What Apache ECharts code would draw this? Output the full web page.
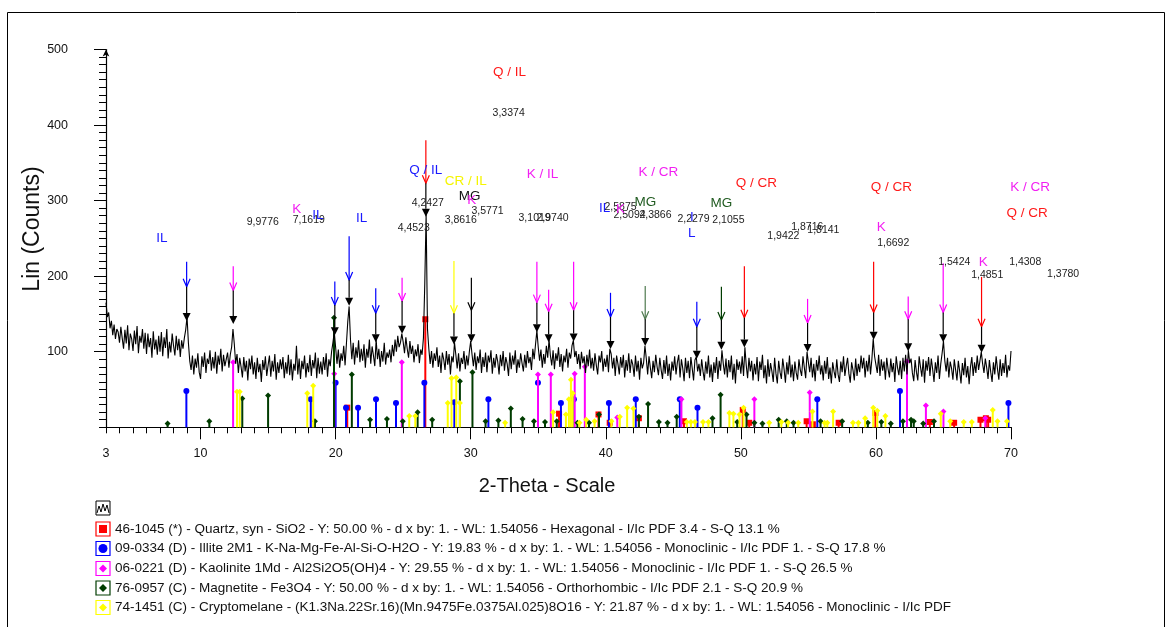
<!DOCTYPE html>
<html>
<head>
<meta charset="utf-8">
<script src="https://cdn.jsdelivr.net/npm/echarts@6/dist/echarts.min.js"></script>
<style>
  html, body { margin: 0; padding: 0; background: #fff; }
  #chart { width: 1171px; height: 627px; }
</style>
</head>
<body>
<div id="chart"></div>
<script>
// ---- Scan: 2-Theta from 3 to 70 deg, one reading every 0.1 deg ----
const scanStart = 3;
const scanStep = 0.1;
const scanCounts = [
  165,146,152,131,141,122,136,117,130,126,
  112,133,118,104,129,111,135,102,124,117,
  101,128,110,134,98,121,112,130,104,125,
  97,124,106,118,92,127,103,116,96,121,
  100,126,94,119,105,130,91,113,99,124,
  108,95,121,102,117,93,115,104,118,129,
  146,112,88,76,95,70,91,79,98,73,
  64,94,80,99,72,91,84,102,75,93,
  78,100,71,95,83,104,74,96,81,90,
  99,79,96,106,130,110,84,97,72,92,
  80,66,93,74,88,62,91,77,95,70,
  86,64,92,73,84,60,89,76,94,68,
  82,95,67,88,74,97,63,86,72,90,
  77,93,65,86,71,96,69,90,62,84,
  75,108,70,91,64,88,77,95,66,85,
  73,96,68,89,78,99,65,92,71,87,
  70,93,76,98,67,90,81,100,112,126,
  106,84,103,79,98,88,108,82,111,140,
  160,116,90,112,83,106,92,115,86,104,
  88,110,79,104,92,116,84,107,95,81,
  116,90,104,80,101,87,112,83,99,92,
  103,86,109,94,116,100,121,106,112,124,
  113,98,119,104,92,114,97,108,86,103,
  94,110,85,103,96,118,190,282,130,104,
  84,101,79,98,88,106,80,95,72,99,
  90,76,101,83,97,70,94,86,112,96,
  78,98,74,92,84,101,77,95,82,100,
  114,96,81,99,76,94,85,103,72,93,
  80,99,73,95,86,102,71,92,79,97,
  87,70,96,81,101,75,93,84,68,99,
  77,95,83,102,72,90,79,98,85,74,
  96,79,101,85,93,76,104,90,110,128,
  106,88,103,79,97,84,108,92,116,95,
  82,102,77,98,88,106,80,97,74,95,
  86,104,79,99,91,108,115,93,101,84,
  97,77,100,85,94,72,96,81,103,78,
  92,75,98,82,70,95,86,101,74,91,
  80,96,73,104,97,78,92,68,95,84,
  70,93,79,96,66,89,75,98,72,90,
  83,67,95,74,88,63,92,78,85,108,
  91,70,94,79,65,88,73,96,80,69,
  92,76,64,89,71,95,68,84,62,87,
  75,94,70,86,96,66,90,78,61,92,
  72,88,65,93,78,62,89,93,74,84,
  68,90,74,62,87,71,95,66,83,60,
  86,72,93,64,88,75,102,84,70,91,
  66,89,73,95,63,84,58,90,76,87,
  71,94,68,106,82,65,92,74,88,62,
  84,70,93,61,87,76,96,65,82,58,
  90,67,85,74,60,92,71,58,88,73,
  64,91,77,59,86,70,95,66,83,61,
  87,72,63,90,76,68,94,79,65,100,
  86,73,92,66,84,61,89,75,95,70,
  82,62,88,71,93,64,79,58,86,74,
  65,90,70,60,87,73,94,68,81,92,
  71,59,86,76,62,91,68,84,73,95,
  78,92,66,88,74,96,70,90,117,94,
  83,72,96,68,90,75,87,63,92,77,
  66,91,73,85,60,94,79,69,88,64,
  92,74,96,70,102,85,91,72,61,89,
  73,62,94,80,67,90,59,88,75,93,
  68,91,77,60,86,72,95,64,84,98,
  114,88,74,92,66,87,78,63,90,76,
  62,88,74,58,85,69,92,66,81,57,
  80,93,68,86,72,95,76,88,100,84,
  72,91,79,64,89,73,60,86,70,94,
  77,63,90,68,85,72,96,66,82,75,
  101
];

// ---- Reference patterns: [2-Theta, stick height in counts] ----
const quartzSticks = [
  [20.86,26],[26.64,143],[36.54,18],[39.46,17],[40.29,6],[42.45,12],[45.79,8],[50.14,23],
  [50.62,6],[54.87,8],[55.33,4],[57.24,6],[59.96,19],[63.99,7],[65.79,6],[67.74,10],[68.14,12],[68.31,10]
];
const illiteSticks = [
  [8.95,48],[18.16,37],[20.0,59],[20.77,26],[21.66,26],[22.99,37],[24.47,32],[26.57,59],
  [28.79,33],[31.31,37],[34.98,59],[36.68,32],[37.64,37],[40.23,32],[42.22,37],[45.48,37],
  [46.79,26],[55.66,37],[61.78,48],[69.81,32]
];
const kaoliniteSticks = [
  [12.41,86],[19.9,71],[24.9,86],[34.98,70],[35.93,70],[37.7,71],[38.45,80],[40.85,13],
  [45.6,37],[51.0,37],[55.1,46],[62.3,87],[63.7,29],[65.0,21],[68.1,12]
];
const magnetiteSticks = [
  [7.56,5],[10.65,8],[13.09,38],[15.0,42],[18.47,8],[19.88,145],[21.2,70],[22.55,10],
  [23.8,11],[24.97,8],[26.07,20],[27.15,10],[29.2,61],[30.13,73],[31.1,8],[32.05,9],
  [32.97,25],[33.84,11],[34.68,8],[35.5,7],[36.37,8],[37.9,6],[38.76,6],[39.5,17],
  [42.45,14],[43.13,31],[43.93,7],[44.57,6],[45.25,14],[47.9,12],[48.5,43],[49.73,7],
  [50.42,17],[51.0,6],[51.6,5],[52.8,10],[53.4,8],[53.9,6],[55.9,8],[57.5,8],
  [59.4,6],[60.4,7],[61.1,5],[62.0,8],[62.6,10],[62.8,8],[63.5,5],[64.3,8]
];
const cryptomelaneSticks = [
  [12.7,47],[12.9,47],[17.9,45],[18.34,55],[25.45,15],[25.9,15],[28.3,32],[28.58,65],
  [28.93,66],[29.2,32],[32.55,6],[36.1,20],[37.05,17],[37.27,37],[37.42,63],[37.55,45],
  [38.05,6],[38.55,10],[39.17,8],[40.42,8],[41.04,14],[41.58,26],[42.05,25],[46.0,7],
  [46.3,7],[46.6,7],[47.2,7],[47.6,7],[49.15,19],[49.45,18],[49.9,17],[50.2,26],
  [52.1,6],[53.0,7],[53.5,6],[54.25,6],[55.3,21],[56.2,6],[56.4,6],[56.83,21],
  [58.3,6],[58.7,6],[59.2,12],[59.8,26],[60.1,22],[60.7,15],[64.8,18],[65.5,8],
  [66.5,7],[67.1,7],[68.65,23],[69.0,8],[69.7,8]
];

// ---- Identified peaks: [2-Theta, arrow top, arrow head, peak mark tip] (counts) ----
const peakMarks = [
  [8.97,219,186,146],[12.42,213,181,142],[19.94,193,162,127],[21.0,253,195,166],
  [22.97,184,151,118],[24.92,198,167,129],[26.68,380,323,284],[28.76,220,151,115],
  [30.05,198,155,118],[34.9,219,165,131],[35.77,182,153,118],[37.62,219,155,119],
  [40.35,178,146,109],[42.92,187,143,113],[46.74,166,133,96],[48.56,186,142,108],
  [50.26,213,145,111],[54.94,170,138,105],[59.83,219,152,121],[62.39,173,143,106],
  [64.98,217,152,118],[67.82,199,133,104]
];
const peakPhase = ['IL','K','IL','IL','IL','K','Q','CR','MGB','K','K','K','IL','MGL','IL','MG','Q','K','Q','K','K','Q'];

// ---- d-spacing annotations: [text, 2-Theta, counts] ----
const dSpacingLabels = [
  ['9,9776',14.61,272],['7,1619',18.01,274],['4,2427',26.82,297],['4,4523',25.78,264],
  ['3,8616',29.26,274],['3,5771',31.25,286],['3,3374',32.81,416],['3,1019',34.73,277],
  ['2,9740',36.06,277],['2,5875',41.09,292],['2,5094',41.76,281],['2,3866',43.68,281],
  ['2,2279',46.49,276],['2,1055',49.08,274],['1,9422',53.15,253],['1,8716',54.92,265],
  ['1,8141',56.11,261],['1,6692',61.28,244],['1,5424',65.8,218],['1,4851',68.24,202],
  ['1,4308',71.05,218],['1,3780',73.86,203]
];
// ---- Phase annotations: [text, 2-Theta, counts, phase] ----
const phaseLabels = [
  ['IL',7.14,250,'IL'],['K',17.13,288,'K'],['IL',18.68,281,'IL'],['IL',21.93,276,'IL'],
  ['Q / IL',26.67,340,'IL'],['CR / IL',29.63,326,'CR'],['MG',29.92,306,'MGB'],['K',30.07,301,'K'],
  ['Q / IL',32.88,470,'Q'],['K / IL',35.32,335,'K'],['IL',39.91,290,'IL'],['K',41.09,289,'K'],
  ['K / CR',43.9,338,'K'],['MG',42.94,298,'MG'],['MG',48.56,297,'MG'],['I',46.37,278,'IL'],
  ['L',46.37,257,'IL'],['Q / CR',51.15,323,'Q'],['Q / CR',61.14,317,'Q'],['K',60.4,265,'K'],
  ['K / CR',71.42,317,'K'],['Q / CR',71.2,283,'Q'],['K',67.94,219,'K']
];

// ---- Legend rows ----
const legendEntries = [
  '46-1045 (*) - Quartz, syn - SiO2 - Y: 50.00 % - d x by: 1. - WL: 1.54056 - Hexagonal - I/Ic PDF 3.4 - S-Q 13.1 %',
  '09-0334 (D) - Illite 2M1 - K-Na-Mg-Fe-Al-Si-O-H2O - Y: 19.83 % - d x by: 1. - WL: 1.54056 - Monoclinic - I/Ic PDF 1. - S-Q 17.8 %',
  '06-0221 (D) - Kaolinite 1Md - Al2Si2O5(OH)4 - Y: 29.55 % - d x by: 1. - WL: 1.54056 - Monoclinic - I/Ic PDF 1. - S-Q 26.5 %',
  '76-0957 (C) - Magnetite - Fe3O4 - Y: 50.00 % - d x by: 1. - WL: 1.54056 - Orthorhombic - I/Ic PDF 2.1 - S-Q 20.9 %',
  '74-1451 (C) - Cryptomelane - (K1.3Na.22Sr.16)(Mn.9475Fe.0375Al.025)8O16 - Y: 21.87 % - d x by: 1. - WL: 1.54056 - Monoclinic - I/Ic PDF'
];

const xLabelTicks = [3, 10, 20, 30, 40, 50, 60, 70];
const yLabelTicks = [100, 200, 300, 400, 500];

// ---------------------------------------------------------------
const FONT = "'Liberation Sans', Arial, Helvetica, sans-serif";
const phaseColor = {
  Q: '#ff0000', IL: '#0000ff', K: '#ff00ff', MG: '#003c00', CR: '#ffff00', MGB: '#000000', MGL: '#4f7a4f'
};
const labelColor = {
  Q: '#ff1a1a', IL: '#1a1aff', K: '#f21ff2', MG: '#1f5a1f', CR: '#f5f500', MGB: '#111111'
};

const scanData = scanCounts.map((c, i) => [Number((scanStart + i * scanStep).toFixed(2)), c]);

const minorX = [];
for (let t = 3; t <= 70; t++) minorX.push(t);
const minorY = [];
for (let v = 0; v <= 500; v += 10) minorY.push(v);

function markerShape(kind, p, color) {
  if (kind === 'square') {
    return { type: 'rect', shape: { x: p[0] - 3, y: p[1] - 3, width: 6, height: 6 }, style: { fill: color } };
  }
  if (kind === 'circle') {
    return { type: 'circle', shape: { cx: p[0], cy: p[1], r: 3 }, style: { fill: color } };
  }
  return {
    type: 'polygon',
    shape: { points: [[p[0], p[1] - 3], [p[0] + 3, p[1]], [p[0], p[1] + 3], [p[0] - 3, p[1]]] },
    style: { fill: color }
  };
}

function stickSeries(name, data, kind, color) {
  return {
    type: 'custom', name: name, data: data, z: 2, silent: true,
    renderItem: function (params, api) {
      const base = api.coord([api.value(0), 0]);
      const top = api.coord([api.value(0), api.value(1)]);
      return {
        type: 'group',
        children: [
          { type: 'line', shape: { x1: base[0], y1: base[1], x2: top[0], y2: top[1] }, style: { stroke: color, lineWidth: 2 } },
          markerShape(kind, top, color)
        ]
      };
    }
  };
}

const chart = echarts.init(document.getElementById('chart'), null, { renderer: 'canvas' });

const legendGraphics = [];
const legendX = 96, legendRowY = [529, 548.5, 568.5, 588, 607.5];
const legendKinds = [['square', '#ff0000'], ['circle', '#0000ff'], ['diamond', '#ff00ff'], ['diamond', '#003c00'], ['diamond', '#ffff00']];
// scan icon
legendGraphics.push({
  type: 'rect', shape: { x: legendX, y: 501, width: 14, height: 14 },
  style: { fill: '#fff', stroke: '#000', lineWidth: 1 }
});
legendGraphics.push({
  type: 'polyline',
  shape: { points: [[legendX + 1, 513], [legendX + 3, 506], [legendX + 5, 512], [legendX + 7, 504], [legendX + 9, 511], [legendX + 11, 505], [legendX + 13, 513]] },
  style: { stroke: '#000', lineWidth: 1, fill: null }
});
legendEntries.forEach((txt, i) => {
  const cy = legendRowY[i];
  const [kind, col] = legendKinds[i];
  legendGraphics.push({
    type: 'rect', shape: { x: legendX, y: cy - 7, width: 14, height: 14 },
    style: { fill: '#fff', stroke: col, lineWidth: 1.2 }
  });
  const c = [legendX + 7, cy];
  let inner;
  if (kind === 'square') inner = { type: 'rect', shape: { x: c[0] - 4, y: c[1] - 4, width: 8, height: 8 }, style: { fill: col } };
  else if (kind === 'circle') inner = { type: 'circle', shape: { cx: c[0], cy: c[1], r: 4.5 }, style: { fill: col } };
  else inner = { type: 'polygon', shape: { points: [[c[0], c[1] - 4], [c[0] + 4, c[1]], [c[0], c[1] + 4], [c[0] - 4, c[1]]] }, style: { fill: col } };
  legendGraphics.push(inner);
  legendGraphics.push({
    type: 'text', x: legendX + 19, y: cy,
    style: { text: txt, fill: '#111', font: '13.5px ' + FONT, align: 'left', verticalAlign: 'middle' }
  });
});

const option = {
  animation: false,
  backgroundColor: '#ffffff',
  grid: { left: 106, right: 160, top: 49.5, bottom: 199.7, containLabel: false },
  xAxis: [
    {
      type: 'value', min: 3, max: 70,
      axisLine: { show: true, lineStyle: { color: '#000', width: 1.2 } },
      axisTick: { show: true, length: 6, customValues: minorX, lineStyle: { color: '#000' } },
      axisLabel: { customValues: xLabelTicks, margin: 20, fontSize: 12.5, color: '#111', fontFamily: FONT },
      splitLine: { show: false }
    },
    {
      type: 'value', min: 3, max: 70, position: 'bottom',
      axisLine: { show: false },
      axisTick: { show: true, length: 12, customValues: [10, 20, 30, 40, 50, 60, 70], lineStyle: { color: '#000' } },
      axisLabel: { show: false },
      splitLine: { show: false }
    }
  ],
  yAxis: [
    {
      type: 'value', min: 0, max: 500,
      axisLine: { show: true, symbol: ['none', 'arrow'], symbolSize: [5, 7], lineStyle: { color: '#000', width: 1.2 } },
      axisTick: { show: true, length: 7, customValues: minorY, lineStyle: { color: '#000' } },
      axisLabel: { customValues: yLabelTicks, margin: 38, fontSize: 12.5, color: '#111', fontFamily: FONT, padding: [8, 0, 0, 0] },
      splitLine: { show: false }
    },
    {
      type: 'value', min: 0, max: 500, position: 'left',
      axisLine: { show: false },
      axisTick: { show: true, length: 12, customValues: [100, 200, 300, 400, 500], lineStyle: { color: '#000' } },
      axisLabel: { show: false },
      splitLine: { show: false }
    }
  ],
  series: [
    stickSeries('Quartz', quartzSticks, 'square', '#ff0000'),
    stickSeries('Illite', illiteSticks, 'circle', '#0000ff'),
    stickSeries('Kaolinite', kaoliniteSticks, 'diamond', '#ff00ff'),
    stickSeries('Magnetite', magnetiteSticks, 'diamond', '#003c00'),
    stickSeries('Cryptomelane', cryptomelaneSticks, 'diamond', '#ffff00'),
    {
      type: 'line', name: 'Scan', data: scanData, z: 3, silent: true,
      showSymbol: false, symbol: 'none',
      lineStyle: { color: '#000', width: 1.1 }
    },
    {
      type: 'custom', name: 'Peaks', data: peakMarks, z: 4, silent: true, clip: false,
      renderItem: function (params, api) {
        const th = api.value(0);
        const pTop = api.coord([th, api.value(1)]);
        const pHead = api.coord([th, api.value(2)]);
        const pTip = api.coord([th, api.value(3)]);
        const col = phaseColor[peakPhase[params.dataIndex]];
        const x = pTop[0];
        return {
          type: 'group',
          children: [
            { type: 'line', shape: { x1: x, y1: pTop[1], x2: x, y2: pHead[1] }, style: { stroke: col, lineWidth: 1.2 } },
            { type: 'polyline', shape: { points: [[x - 3.5, pHead[1] - 8], [x, pHead[1]], [x + 3.5, pHead[1] - 8]] }, style: { stroke: col, lineWidth: 1.2, fill: null } },
            { type: 'line', shape: { x1: x, y1: pHead[1], x2: x, y2: pTip[1] - 4 }, style: { stroke: '#000', lineWidth: 1.2 } },
            { type: 'polygon', shape: { points: [[x - 4, pTip[1] - 4], [x + 4, pTip[1] - 4], [x, pTip[1] + 4]] }, style: { fill: '#000' } }
          ]
        };
      }
    },
    {
      type: 'custom', name: 'd-spacing', data: dSpacingLabels.map(d => [d[1], d[2]]), z: 5, silent: true, clip: false,
      renderItem: function (params, api) {
        const p = api.coord([api.value(0), api.value(1)]);
        return {
          type: 'text', x: p[0], y: p[1],
          style: { text: dSpacingLabels[params.dataIndex][0], fill: '#222', font: '10.5px ' + FONT, align: 'center', verticalAlign: 'middle' }
        };
      }
    },
    {
      type: 'custom', name: 'phase', data: phaseLabels.map(d => [d[1], d[2]]), z: 6, silent: true, clip: false,
      renderItem: function (params, api) {
        const p = api.coord([api.value(0), api.value(1)]);
        const l = phaseLabels[params.dataIndex];
        return {
          type: 'text', x: p[0], y: p[1],
          style: { text: l[0], fill: labelColor[l[3]], font: '13.5px ' + FONT, align: 'center', verticalAlign: 'middle' }
        };
      }
    }
  ],
  graphic: [
    {
      type: 'rect', shape: { x: 7.5, y: 12.5, width: 1157, height: 640 },
      style: { fill: null, stroke: '#000', lineWidth: 1 }, z: -1, silent: true
    },
    {
      type: 'text', x: 33, y: 229, rotation: Math.PI / 2,
      style: { text: 'Lin (Counts)', fill: '#111', font: '23px ' + FONT, align: 'center', verticalAlign: 'middle' }
    },
    {
      type: 'text', x: 547, y: 486,
      style: { text: '2-Theta - Scale', fill: '#111', font: '20px ' + FONT, align: 'center', verticalAlign: 'middle' }
    }
  ].concat(legendGraphics)
};

chart.setOption(option);
</script>
</body>
</html>
